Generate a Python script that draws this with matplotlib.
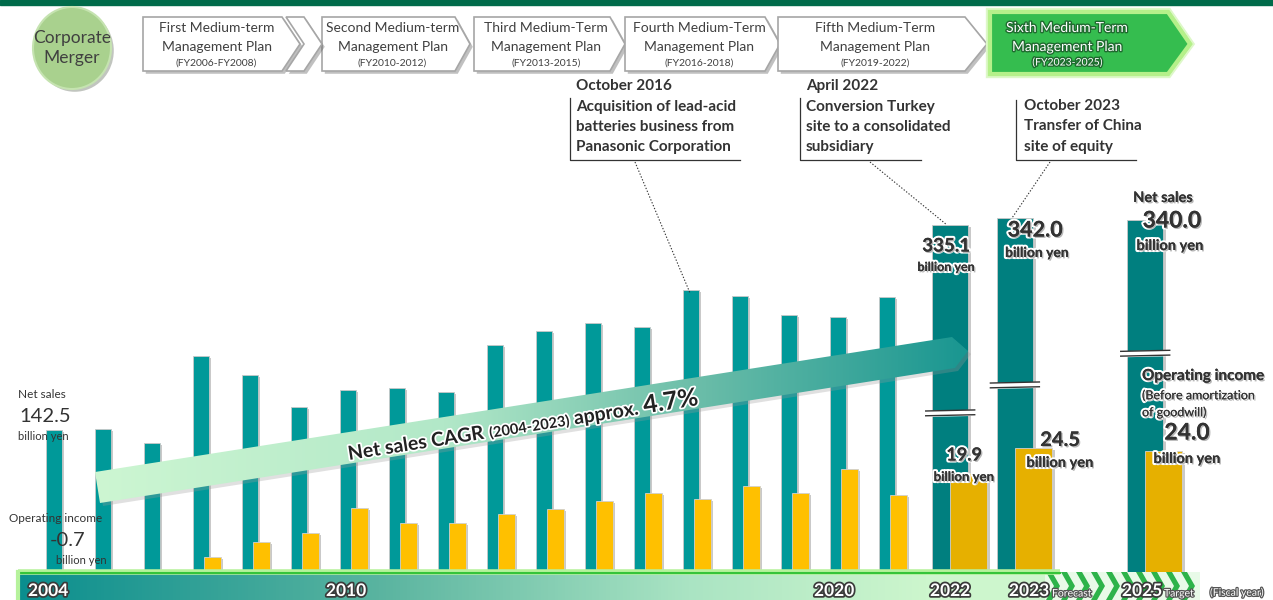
import numpy as np
import matplotlib
matplotlib.use('Agg')
import matplotlib.pyplot as plt
from matplotlib.patches import Polygon, Rectangle, Ellipse
import matplotlib.patheffects as pe

plt.rcParams['font.family'] = ['Lato', 'DejaVu Sans']

# data (billion yen)
years = ['2004', '2005', '2006', '2007', '2008', '2009', '2010', '2011', '2012',
         '2013', '2014', '2015', '2016', '2017', '2018', '2019', '2020', '2021',
         '2022', '2023', '2025']
net_sales = [142.5, 143.5, 130.3, 211.9, 194.7, 164.6, 180.6, 182.5, 178.7,
             222.9, 236.1, 243.6, 239.8, 274.6, 268.9, 251.0, 249.1, 267.9,
             335.1, 342.0, 340.0]
op_income = [-0.7, 0.8, 1.2, 4.5, 7.2, 8.9, 13.5, 10.7, 10.7,
             12.4, 13.3, 14.8, 16.2, 15.1, 17.5, 16.2, 20.6, 15.9,
             19.9, 24.5, 24.0]

plan_line1 = ['First Medium-term', 'Second Medium-term', 'Third Medium-Term',
              'Fourth Medium-Term', 'Fifth Medium-Term', 'Sixth Medium-Term']
plan_period = ['(FY2006-FY2008)', '(FY2010-2012)', '(FY2013-2015)',
               '(FY2016-2018)', '(FY2019-2022)', '(FY2023-2025)']

events = [['October 2016', 'Acquisition of lead-acid', 'batteries business from', 'Panasonic Corporation'],
          ['April 2022', 'Conversion Turkey', 'site to a consolidated', 'subsidiary'],
          ['October 2023', 'Transfer of China', 'site of equity']]

fig = plt.figure(figsize=(12.73, 6), dpi=100)

# ---- bar axes ----
ax = fig.add_axes([0, 0, 1, 1], zorder=1)
ax2 = ax.twinx()
ax2.set_zorder(2)
ax2.patch.set_visible(False)
ax.set_xlim(-54 / 49, (1273 - 54) / 49)
ax.set_ylim(-18.5 / 1.063, 581.5 / 1.063)
ax2.set_ylim(-18.5 / 5.45, 581.5 / 5.45)
ax.axis('off')
ax2.axis('off')

n_hist = 18
xpos = np.r_[np.arange(n_hist), 18.29, 19.61, 22.27]
shadow = [pe.SimplePatchShadow(offset=(2, -1.5), shadow_rgbFace='#888888', alpha=0.45), pe.Normal()]

ax.bar(xpos[:n_hist], net_sales[:n_hist], width=0.31, color='#009999',
       edgecolor='#c8c8c8', linewidth=0.6, path_effects=shadow)
ax.bar(xpos[n_hist:], net_sales[n_hist:], width=0.735, color='#007F7F',
       edgecolor='#c8c8c8', linewidth=0.6, path_effects=shadow)
ax2.bar(xpos[3:n_hist] + 0.235, op_income[3:n_hist], width=0.33, color='#FFC000',
        edgecolor='#d0d0d0', linewidth=0.6, path_effects=shadow)
ax2.bar(xpos[:3] + 0.235, op_income[:3], width=0.33, color='#FFC000')
ax2.bar(xpos[n_hist:] + 0.378, op_income[n_hist:], width=0.755, color='#E6B000',
        edgecolor='#d0d0d0', linewidth=0.6, path_effects=shadow)

# break marks on the last three bars (drawn in net-sales units, converted to ax2)
k_conv = 1.063 / 5.45
for xc, yb in zip(xpos[n_hist:], [158.5, 184.8, 214.6]):
    xs = np.array([xc - 0.5, xc + 0.5])
    lo = np.array([yb - 2.6, yb - 1.6])
    hi = lo + 4.5
    ax2.fill_between(xs, lo * k_conv, hi * k_conv, color='white', zorder=5)
    ax2.plot(xs, lo * k_conv, color='#333333', lw=1, zorder=6)
    ax2.plot(xs, hi * k_conv, color='#333333', lw=1, zorder=6)

# ---- overlay axes in pixel units ----
ov = fig.add_axes([0, 0, 1, 1], zorder=3)
ov.axis('off')
ov.patch.set_alpha(0)

# top band
ov.add_patch(Rectangle((0, 0), 1273, 5, color='#006B4A'))

# merger circle
ov.add_patch(Ellipse((72, 48), 78, 82, facecolor='#A9D18E', edgecolor='#C5E3B0', lw=1.5,
                     path_effects=[pe.SimplePatchShadow(offset=(2, -2), alpha=0.3), pe.Normal()]))
ov.text(72, 48, 'Corporate\nMerger', ha='center', va='center', fontsize=12.5,
        color='#404040', linespacing=1.25)

# plan chevrons
boxes = [(143, 282, 300), (322, 455, 470), (474, 610, 625), (625, 765, 780),
         (778, 965, 987), (990, 1168, 1190)]
y0, y1 = 17, 71
for i, (xa, xb, xt) in enumerate(boxes):
    pts = [(xa, y0), (xb, y0), (xt, (y0 + y1) / 2), (xb, y1), (xa, y1)]
    if i < 5:
        ov.add_patch(Polygon(pts, facecolor='white', edgecolor='#A6A6A6', lw=1.2,
                             path_effects=[pe.SimplePatchShadow(offset=(2, -2), alpha=0.35), pe.Normal()]))
        fx = dict(color='#404040')
        eff = None
        xc = (xa + xb) / 2 + 4
    else:
        pts = [(xa, y0 - 5), (xb, y0 - 5), (xt, (y0 + y1) / 2), (xb, y1 + 3), (xa, y1 + 3)]
        ov.add_patch(Polygon(pts, facecolor='#35BD4F', edgecolor='#B5F08A', lw=3,
                             path_effects=[pe.withStroke(linewidth=6, foreground='#DDF8C8'), pe.Normal()]))
        fx = dict(color='white')
        eff = [pe.withStroke(linewidth=2, foreground='#1F6B2F')]
        xc = (xa + xb) / 2 - 12
    ov.text(xc, 28, plan_line1[i], ha='center', va='center', fontsize=10, path_effects=eff, **fx)
    ov.text(xc, 47, 'Management Plan', ha='center', va='center', fontsize=10, path_effects=eff, **fx)
    ov.text(xc, 63, plan_period[i], ha='center', va='center', fontsize=7.5, path_effects=eff, **fx)
# small chevron between first and second plan
ov.add_patch(Polygon([(286, 17), (304, 17), (322, 44), (304, 71), (286, 71), (304, 44)],
                     facecolor='white', edgecolor='#A6A6A6', lw=1.2,
                     path_effects=[pe.SimplePatchShadow(offset=(2, -2), alpha=0.35), pe.Normal()]))

# event annotations
ev_x = [576, 806, 1024]
ev_top = [86, 86, 106]
ev_br = [(570, 98, 740), (800, 98, 921), (1016, 100, 1136)]
ev_link = [((635, 162), (690, 293)), ((870, 162), (947, 225)), ((1050, 162), (1012, 218))]
for lines, x, yt, (bx, by, bx2), (p, q) in zip(events, ev_x, ev_top, ev_br, ev_link):
    for k, s in enumerate(lines):
        ov.text(x, yt + k * 20.5, s, ha='left', va='center', fontsize=11,
                fontweight='bold', color='#333333')
    ov.plot([bx, bx, bx2], [by, 160, 160], color='#333333', lw=0.9)
    ov.plot([p[0], q[0]], [p[1], q[1]], color='#333333', lw=0.8, ls=(0, (1.2, 1.6)))

# CAGR arrow
arrow_pts = np.array([(95, 472), (952, 337), (968, 351), (955, 368), (100, 503)])
ov.add_patch(Polygon(arrow_pts + [3, 3], facecolor='#999999', alpha=0.3, lw=0))
stops = np.array([[0.0, 205, 246, 210], [0.4, 178, 232, 200], [0.7, 105, 188, 168], [1.0, 25, 150, 145]])
gx = np.linspace(0, 1, 300)
grad = np.stack([np.interp(gx, stops[:, 0], stops[:, c]) for c in (1, 2, 3)], axis=-1) / 255
im = ov.imshow(grad[None, :, :], extent=[95, 968, 503, 337], aspect='auto', zorder=2)
clip = Polygon(arrow_pts, facecolor='none', lw=0)
ov.add_patch(clip)
im.set_clip_path(clip)

theta = np.deg2rad(8.95)
pieces = [('Net sales CAGR ', 14), ('(2004-2023)', 10.5), (' approx. ', 14), ('4.7%', 18)]
renderer = fig.canvas.get_renderer()
ov.set_xlim(0, 1273)
ov.set_ylim(600, 0)
px, py = 349, 460
glow = [pe.withStroke(linewidth=2.5, foreground='white')]
for s, fs in pieces:
    ov.text(px, py, s, fontsize=fs, fontweight='bold', color='#222222',
            rotation=np.rad2deg(theta), rotation_mode='anchor', ha='left', va='baseline',
            path_effects=glow, zorder=4)
    tmp = ov.text(0, 0, s, fontsize=fs, fontweight='bold')
    w = tmp.get_window_extent(renderer).width
    tmp.remove()
    px += w * np.cos(theta)
    py -= w * np.sin(theta)

# bottom band
bstops = np.array([[0.0, 10, 142, 142], [0.35, 90, 180, 160], [0.65, 170, 228, 195],
                   [0.88, 205, 246, 205], [1.0, 205, 246, 205]])
grad2 = np.stack([np.interp(gx, bstops[:, 0], bstops[:, c]) for c in (1, 2, 3)], axis=-1) / 255
ov.imshow(grad2[None, :, :], extent=[18, 1050, 600, 572], aspect='auto', zorder=2)
ov.add_patch(Polygon([(1045, 572), (1200, 572), (1200, 600), (1045, 600)],
                     facecolor='#E8FAE8', lw=0, zorder=2))
for k in range(10):
    x0 = 1046 + k * 15
    ov.add_patch(Polygon([(x0, 572), (x0 + 6, 572), (x0 + 14, 586), (x0 + 6, 600),
                          (x0, 600), (x0 + 8, 586)], facecolor='#2DB34A', lw=0, zorder=2))
ov.plot([18, 1060], [572, 572], color='#B6F29C', lw=4, zorder=2.5, solid_capstyle='butt')
ov.plot([18, 1060], [572.5, 572.5], color='#35C43A', lw=1.5, zorder=2.6)
ov.plot([18, 18], [572, 600], color='#B6F29C', lw=3, zorder=2.6)
ov.set_xlim(0, 1273)
ov.set_ylim(600, 0)

out_w = [pe.withStroke(linewidth=2.5, foreground='#3a3a3a')]
for x, s in [(48, '2004'), (346, '2010'), (834, '2020'), (950, '2022'), (1029, '2023'), (1142, '2025')]:
    ov.text(x, 591, s, ha='center', va='center', fontsize=12.5, fontweight='bold',
            color='white', path_effects=out_w, zorder=5)
out_s = [pe.withStroke(linewidth=1.8, foreground='#555555')]
ov.text(1052, 594, 'Forecast', ha='left', va='center', fontsize=7.5, color='white', path_effects=out_s, zorder=5)
ov.text(1164, 594, 'Target', ha='left', va='center', fontsize=7.5, color='white', path_effects=out_s, zorder=5)
ov.text(1210, 593, '(Fiscal year)', ha='left', va='center', fontsize=7.5, color='white', path_effects=out_s, zorder=5)

# left labels
ov.text(18, 395, 'Net sales', ha='left', va='center', fontsize=8.5, color='#333333')
ov.text(19, 416, '142.5', ha='left', va='center', fontsize=14.5, color='#333333')
ov.text(18, 437, 'billion yen', ha='left', va='center', fontsize=8, color='#333333')
ov.text(9, 518, 'Operating income', ha='left', va='center', fontsize=8.5, color='#333333')
ov.text(50, 540, '-0.7', ha='left', va='center', fontsize=14.5, color='#333333')
ov.text(56, 561, 'billion yen', ha='left', va='center', fontsize=8, color='#333333')

# right labels
halo = [pe.withStroke(linewidth=3, foreground='white'),
        pe.SimplePatchShadow(offset=(1, -1), alpha=0.3), pe.Normal()]
labels = [(946, 246, '335.1', 13.5), (946, 267, 'billion yen', 9),
          (1035, 230, '342.0', 15.5), (1037, 253, 'billion yen', 10),
          (1163, 198, 'Net sales', 10.5), (1172, 221, '340.0', 16.5), (1170, 246, 'billion yen', 10.5),
          (1187, 433, '24.0', 16.5), (1187, 459, 'billion yen', 10.5),
          (1060, 440, '24.5', 14.5), (1060, 463, 'billion yen', 10.5),
          (964, 455, '19.9', 13), (964, 477, 'billion yen', 9.5)]
for x, y, s, fs in labels:
    ov.text(x, y, s, ha='center', va='center', fontsize=fs, fontweight='bold',
            color='#333333', path_effects=halo, zorder=5)
ov.text(1142, 376, 'Operating income', ha='left', va='center', fontsize=11,
        fontweight='bold', color='#333333', path_effects=halo, zorder=5)
ov.text(1142, 395, '(Before amortization', ha='left', va='center', fontsize=9,
        color='#333333', path_effects=halo, zorder=5)
ov.text(1142, 412, 'of goodwill)', ha='left', va='center', fontsize=9,
        color='#333333', path_effects=halo, zorder=5)

fig.savefig('out.png', dpi=100)
